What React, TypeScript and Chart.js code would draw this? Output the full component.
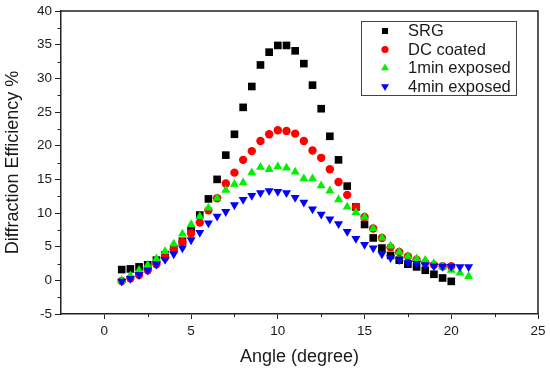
import { useEffect, useRef } from 'react';
import { Chart, registerables } from 'chart.js';

Chart.register(...registerables);

// ---- data ----
const ANGLE_20 = [1, 1.5, 2, 2.5, 3, 3.5, 4, 4.5, 5, 5.5, 6, 6.5, 7, 7.5, 8, 8.5, 9, 9.5, 10, 10.5, 11, 11.5, 12, 12.5, 13, 13.5, 14, 14.5, 15, 15.5, 16, 16.5, 17, 17.5, 18, 18.5, 19, 19.5, 20];
const ANGLE_21 = [1, 1.5, 2, 2.5, 3, 3.5, 4, 4.5, 5, 5.5, 6, 6.5, 7, 7.5, 8, 8.5, 9, 9.5, 10, 10.5, 11, 11.5, 12, 12.5, 13, 13.5, 14, 14.5, 15, 15.5, 16, 16.5, 17, 17.5, 18, 18.5, 19, 19.5, 20, 20.5, 21];

const SRG = [1.6, 1.7, 2.0, 2.3, 3.0, 3.8, 4.7, 5.8, 7.4, 9.7, 12.1, 15.0, 18.6, 21.7, 25.7, 28.8, 32.0, 33.9, 34.9, 34.9, 34.1, 32.2, 29.0, 25.5, 21.4, 17.9, 14.0, 10.9, 8.3, 6.3, 4.8, 3.7, 3.0, 2.4, 2.0, 1.5, 0.9, 0.35, -0.15];
const DC_COATED = [-0.1, 0.3, 0.8, 1.5, 2.4, 3.4, 4.6, 5.7, 7.0, 8.6, 10.4, 12.2, 14.4, 16.0, 17.9, 19.2, 20.7, 21.7, 22.3, 22.2, 21.8, 20.7, 19.3, 18.2, 16.5, 14.6, 12.7, 10.9, 9.4, 7.7, 6.3, 4.9, 4.2, 3.55, 3.05, 2.6, 2.3, 2.1, 2.1];
const MIN1_EXPOSED = [0.0, 0.7, 1.5, 2.3, 3.2, 4.3, 5.4, 6.9, 8.3, 9.5, 10.75, 12.2, 13.4, 14.3, 14.5, 16.0, 16.8, 16.5, 16.9, 16.7, 16.1, 15.1, 15.1, 14.05, 13.3, 12.0, 10.9, 10.1, 9.4, 7.7, 6.3, 5.1, 4.2, 3.6, 3.2, 3.0, 2.5, 2.0, 1.5, 1.1, 0.6];
const MIN4_EXPOSED = [-0.15, 0.25, 0.84, 1.5, 2.4, 3.1, 3.9, 4.8, 6.0, 7.1, 8.5, 9.5, 10.2, 11.2, 12.0, 12.6, 13.0, 13.3, 13.2, 13.0, 12.3, 11.6, 10.6, 9.8, 9.1, 8.4, 7.25, 6.2, 5.3, 4.8, 3.9, 3.35, 3.05, 2.6, 2.5, 2.3, 2.1, 2.05, 2.05, 2.0, 2.0];

const SERIES_LABELS = ['SRG', 'DC coated', '1min exposed', '4min exposed'];
const X_TICKS = [0, 5, 10, 15, 20, 25];
const X_MINOR = [2.5, 7.5, 12.5, 17.5, 22.5];
const Y_TICKS = [-5, 0, 5, 10, 15, 20, 25, 30, 35, 40];
const Y_MINOR = [-2.5, 2.5, 7.5, 12.5, 17.5, 22.5, 27.5, 32.5, 37.5];

// ---- styles ----
const FONT = '"Liberation Sans", Arial, sans-serif';
const AXIS = '#222222';
const TEXT = '#1a1a1a';
const STYLES = [
  { color: '#000000', pointStyle: 'rect', radius: 5.4, rotation: 0, legendR: 4.3 },
  { color: '#ff0000', pointStyle: 'circle', radius: 4.2, rotation: 0, legendR: 3.6 },
  { color: '#00f000', pointStyle: 'triangle', radius: 5.2, rotation: 0, legendR: 4.6 },
  { color: '#0000ff', pointStyle: 'triangle', radius: 5.2, rotation: 180, legendR: 4.6 },
];

function drawMarker(ctx: CanvasRenderingContext2D, style: string, rotation: number, x: number, y: number, r: number) {
  ctx.beginPath();
  if (style === 'rect') {
    const s = r * Math.SQRT1_2;
    ctx.rect(x - s, y - s, 2 * s, 2 * s);
  } else if (style === 'circle') {
    ctx.arc(x, y, r, 0, Math.PI * 2);
  } else {
    const d = rotation ? -1 : 1;
    ctx.moveTo(x, y - d * r);
    ctx.lineTo(x + r * 0.866, y + (d * r) / 2);
    ctx.lineTo(x - r * 0.866, y + (d * r) / 2);
    ctx.closePath();
  }
  ctx.fill();
}

const framePlugin = {
  id: 'frame',
  afterDraw(chart: any) {
    const { ctx, chartArea: a, scales } = chart;
    const x = scales.x;
    const y = scales.y;
    ctx.save();
    ctx.strokeStyle = AXIS;
    ctx.lineWidth = 1.5;
    ctx.beginPath();
    ctx.moveTo(a.left, a.top);
    ctx.lineTo(a.right, a.top);
    ctx.lineTo(a.right, a.bottom);
    ctx.stroke();

    ctx.lineWidth = 1;
    ctx.beginPath();
    X_MINOR.forEach((v) => {
      const px = Math.round(x.getPixelForValue(v)) + 0.5;
      ctx.moveTo(px, a.bottom);
      ctx.lineTo(px, a.bottom + 3);
    });
    Y_MINOR.forEach((v) => {
      const py = Math.round(y.getPixelForValue(v)) + 0.5;
      ctx.moveTo(a.left, py);
      ctx.lineTo(a.left - 3.5, py);
    });
    ctx.stroke();

    // legend box
    const box = { left: 361, top: 21, width: 155, height: 74 };
    ctx.strokeStyle = '#444444';
    ctx.lineWidth = 1;
    ctx.strokeRect(box.left + 0.5, box.top + 0.5, box.width, box.height);
    ctx.font = `16.5px ${FONT}`;
    ctx.textBaseline = 'middle';
    ctx.textAlign = 'left';
    SERIES_LABELS.forEach((label, i) => {
      const rowY = box.top + 10 + i * 18.5;
      const st = STYLES[i];
      ctx.fillStyle = st.color;
      drawMarker(ctx, st.pointStyle, st.rotation, 385, rowY, st.legendR);
      ctx.fillStyle = TEXT;
      ctx.fillText(label, 408, rowY + 0.5);
    });
    ctx.restore();
  },
};

function toPoints(xs: number[], ys: number[]) {
  return ys.map((v, i) => ({ x: xs[i], y: v }));
}

export default function App() {
  const ref = useRef<HTMLCanvasElement | null>(null);

  useEffect(() => {
    if (!ref.current) return;
    const seriesData = [
      toPoints(ANGLE_20, SRG),
      toPoints(ANGLE_20, DC_COATED),
      toPoints(ANGLE_21, MIN1_EXPOSED),
      toPoints(ANGLE_21, MIN4_EXPOSED),
    ];
    const chart = new Chart(ref.current, {
      type: 'scatter',
      data: {
        datasets: SERIES_LABELS.map((label, i) => ({
          label,
          data: seriesData[i],
          backgroundColor: STYLES[i].color,
          borderColor: STYLES[i].color,
          pointStyle: STYLES[i].pointStyle as any,
          pointRadius: STYLES[i].radius,
          pointRotation: STYLES[i].rotation,
          pointBorderWidth: 0,
          showLine: false,
          order: 4 - i,
        })),
      },
      options: {
        animation: false,
        responsive: false,
        devicePixelRatio: 1,
        layout: { padding: { top: 10, right: 12, left: 0, bottom: 0 } },
        plugins: { legend: { display: false }, tooltip: { enabled: false } },
        scales: {
          x: {
            type: 'linear',
            min: -2.5,
            max: 25,
            afterBuildTicks: (s: any) => {
              s.ticks = X_TICKS.map((v) => ({ value: v }));
            },
            afterFit: (s: any) => {
              s.height = 55;
            },
            grid: { drawOnChartArea: false, drawTicks: true, tickLength: 5, color: AXIS, lineWidth: 1 },
            border: { display: true, color: AXIS, width: 1.5 },
            ticks: { color: TEXT, font: { family: FONT, size: 13.5 }, padding: 4, autoSkip: false, maxRotation: 0 },
            title: {
              display: true,
              text: 'Angle (degree)',
              color: TEXT,
              font: { family: FONT, size: 18 },
              padding: { top: 0, bottom: 1 },
            },
          },
          y: {
            type: 'linear',
            min: -5,
            max: 40,
            afterBuildTicks: (s: any) => {
              s.ticks = Y_TICKS.map((v) => ({ value: v }));
            },
            afterFit: (s: any) => {
              s.width = 61;
            },
            grid: { drawOnChartArea: false, drawTicks: true, tickLength: 6, color: AXIS, lineWidth: 1 },
            border: { display: true, color: AXIS, width: 1.5 },
            ticks: { color: TEXT, font: { family: FONT, size: 13.5 }, padding: 3, autoSkip: false },
            title: {
              display: true,
              text: 'Diffraction Efficiency %',
              color: TEXT,
              font: { family: FONT, size: 18 },
              padding: { top: 2, bottom: 0 },
            },
          },
        },
      },
      plugins: [framePlugin],
    });
    return () => chart.destroy();
  }, []);

  return (
    <div style={{ position: 'absolute', left: 0, top: 0, width: 550, height: 369, background: '#fff' }}>
      <canvas ref={ref} width={550} height={369} />
    </div>
  );
}
